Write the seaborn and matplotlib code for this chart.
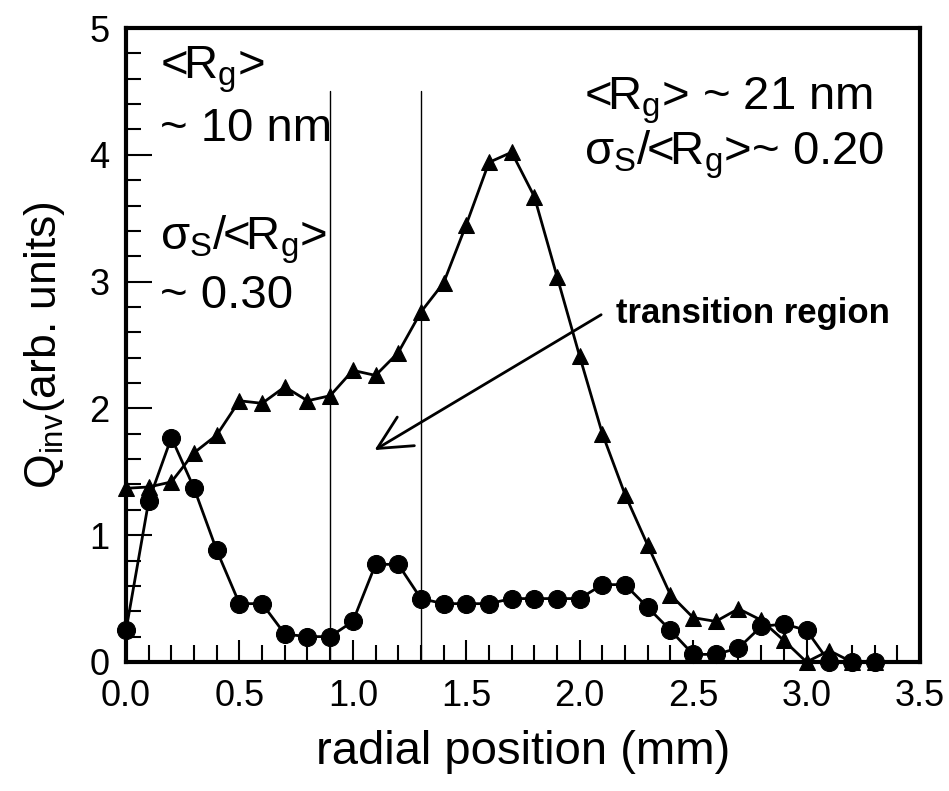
import numpy as np
import pandas as pd
import matplotlib
matplotlib.use("Agg")
import matplotlib.pyplot as plt
import seaborn as sns
from matplotlib.ticker import MultipleLocator

# radial positions (mm)
radial = [0.0, 0.1, 0.2, 0.3, 0.4, 0.5, 0.6, 0.7, 0.8, 0.9, 1.0, 1.1,
          1.2, 1.3, 1.4, 1.5, 1.6, 1.7, 1.8, 1.9, 2.0, 2.1, 2.2, 2.3,
          2.4, 2.5, 2.6, 2.7, 2.8, 2.9, 3.0, 3.1, 3.2, 3.3]

# Q_inv, small particles (circles)
q_small = [0.25, 1.27, 1.77, 1.37, 0.88, 0.46, 0.46, 0.22, 0.20, 0.20, 0.32, 0.77,
           0.77, 0.50, 0.46, 0.46, 0.46, 0.50, 0.50, 0.50, 0.50, 0.61, 0.61, 0.43,
           0.25, 0.06, 0.06, 0.11, 0.28, 0.30, 0.25, 0.0, 0.0, 0.0]

# Q_inv, large particles (triangles)
q_large = [1.37, 1.38, 1.42, 1.65, 1.79, 2.06, 2.04, 2.17, 2.06, 2.10, 2.30, 2.26,
           2.44, 2.76, 2.99, 3.45, 3.94, 4.02, 3.67, 3.04, 2.41, 1.80, 1.32, 0.92,
           0.53, 0.35, 0.32, 0.42, 0.33, 0.17, 0.0, 0.09, 0.0, 0.0]

# boundaries of the transition region
boundaries = [0.9, 1.3]

x_ticks = [0.0, 0.5, 1.0, 1.5, 2.0, 2.5, 3.0, 3.5]
y_ticks = [0, 1, 2, 3, 4, 5]

sns.set_style("ticks")
plt.rcParams['font.family'] = ['Liberation Sans', 'DejaVu Sans']
plt.rcParams['mathtext.fontset'] = 'custom'
plt.rcParams['mathtext.rm'] = 'Liberation Sans'
plt.rcParams['mathtext.it'] = 'Liberation Sans:italic'
plt.rcParams['mathtext.default'] = 'rm'
for k in ['text.color', 'axes.labelcolor', 'xtick.color', 'ytick.color']:
    plt.rcParams[k] = 'black'

df = pd.DataFrame({"radial": radial, "small": q_small, "large": q_large})

fig = plt.figure(figsize=(9.49, 7.91), dpi=100)
ax = fig.add_axes([0.1328, 0.1631, 0.8366, 0.8015])

sns.lineplot(data=df, x="radial", y="large", ax=ax, color="black", lw=2,
             marker="^", markersize=12, markeredgecolor="black", clip_on=False)
sns.lineplot(data=df, x="radial", y="small", ax=ax, color="black", lw=2,
             marker="o", markersize=13, markeredgecolor="black", clip_on=False)

for b in boundaries:
    ax.plot([b, b], [0, 4.5], color="black", lw=1)

ax.annotate("", xy=(1.085, 1.66), xytext=(2.105, 2.75),
            arrowprops=dict(arrowstyle="->", color="black", lw=2,
                            mutation_scale=60))
ax.text(2.16, 2.75, "transition region", fontsize=25, fontweight="bold",
        va="center", ha="left")

ax.text(0.15, 4.67, r"<R$_g$>", fontsize=34, va="center")
ax.text(0.15, 4.2, "~ 10 nm", fontsize=34, va="center")
ax.text(0.15, 3.33, r"$\sigma_S$/<R$_g$>", fontsize=34, va="center")
ax.text(0.15, 2.89, "~ 0.30", fontsize=34, va="center")
ax.text(2.02, 4.43, r"<R$_g$> ~ 21 nm", fontsize=34, va="center")
ax.text(2.02, 4.0, r"$\sigma_S$/<R$_g$>~ 0.20", fontsize=34, va="center")

ax.set_xlim(0, 3.5)
ax.set_ylim(0, 5)
ax.set_xticks(x_ticks)
ax.set_xticklabels([f"{t:.1f}" for t in x_ticks])
ax.set_yticks(y_ticks)
ax.set_yticklabels([str(t) for t in y_ticks])
ax.xaxis.set_minor_locator(MultipleLocator(0.1))
ax.yaxis.set_minor_locator(MultipleLocator(0.2))
ax.tick_params(axis="both", which="both", direction="in", width=1.5,
               labelsize=26, pad=12, top=False, right=False)
ax.tick_params(axis="x", which="major", length=16)
ax.tick_params(axis="x", which="minor", length=12)
ax.tick_params(axis="y", which="major", length=19)
ax.tick_params(axis="y", which="minor", length=11)

for s in ax.spines.values():
    s.set_linewidth(3)
    s.set_color("black")

ax.set_xlabel("radial position (mm)", fontsize=34, labelpad=12)
ax.set_ylabel(r"Q$_{inv}$(arb. units)", fontsize=32, labelpad=16)

fig.savefig("out.png", dpi=100)
